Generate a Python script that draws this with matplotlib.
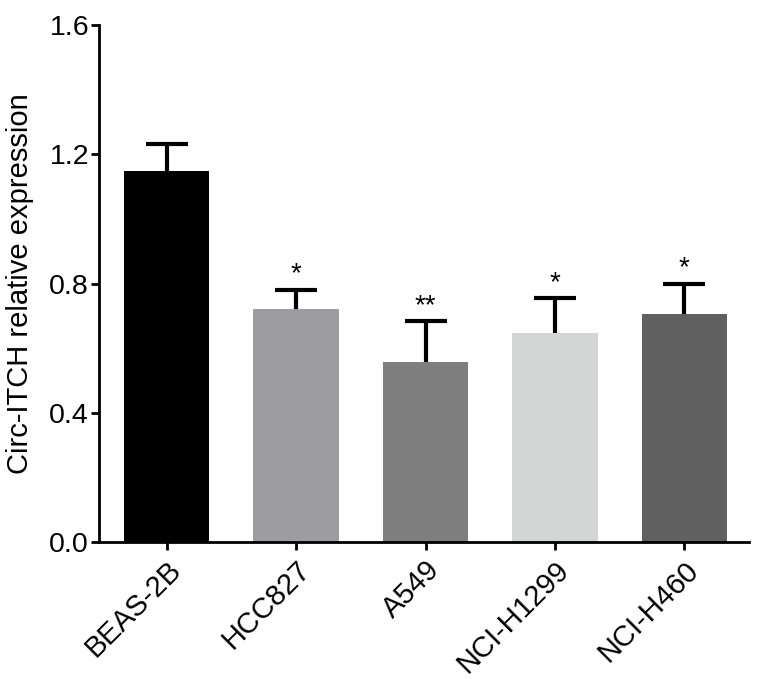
import matplotlib
matplotlib.use("Agg")
import matplotlib.pyplot as plt
import numpy as np

categories = ["BEAS-2B", "HCC827", "A549", "NCI-H1299", "NCI-H460"]
means = [1.149, 0.721, 0.556, 0.648, 0.707]
sds = [0.082, 0.060, 0.127, 0.106, 0.092]
stars = ["", "*", "**", "*", "*"]
colors = ["#000000", "#9d9ca1", "#7f7f7f", "#d4d5d5", "#606060"]
yticks = [0.0, 0.4, 0.8, 1.2, 1.6]

plt.rcParams['font.family'] = ['Liberation Sans', 'DejaVu Sans']

fig = plt.figure(figsize=(7.6, 6.79), dpi=100)
ax = fig.add_axes([0.130, 0.2018, 0.8555, 0.7612])

x = np.arange(len(categories))
ax.bar(x, means, width=0.66, color=colors, zorder=2)
eb = ax.errorbar(x, means, yerr=[np.zeros(len(sds)), sds], fmt='none', ecolor='black',
                 elinewidth=3, capsize=15, capthick=3, zorder=3)
# hide lower caps (one-sided error bars)
eb[1][0].set_visible(False)
for xi, m, s, st in zip(x, means, sds, stars):
    if st:
        ax.text(xi, m + s + 0.008, st, ha='center', va='bottom', fontsize=20)

ax.set_xlim(-0.525, 4.5)
ax.set_ylim(0, 1.6)
ax.set_yticks(yticks)
ax.set_yticklabels([f"{v:.1f}" for v in yticks], fontsize=20.5)
ax.set_xticks(x)
ax.set_xticklabels(categories, rotation=45, ha='right', rotation_mode='anchor', fontsize=21)
ax.set_ylabel("Circ-ITCH relative expression", fontsize=21, labelpad=11)

for s in ['top', 'right']:
    ax.spines[s].set_visible(False)
for s in ['left', 'bottom']:
    ax.spines[s].set_linewidth(2)
ax.tick_params(axis='both', width=2, length=6, direction='out')
ax.tick_params(axis='y', pad=1)
ax.tick_params(axis='x', pad=4)

fig.savefig("out.png", dpi=100)
